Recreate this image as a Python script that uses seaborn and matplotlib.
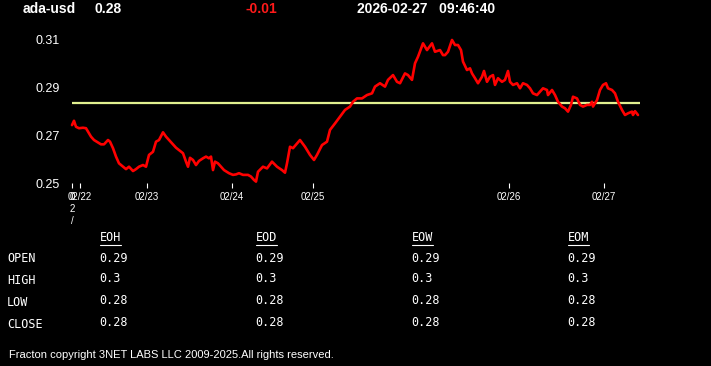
"""ada-usd intraday price panel with EOH/EOD/EOW/EOM summary table."""
import matplotlib
matplotlib.use("Agg")
import matplotlib.pyplot as plt
from matplotlib.lines import Line2D
import pandas as pd
import seaborn as sns

# --- data -----------------------------------------------------------------
symbol = "ada-usd"
last_price = "0.28"
change = "-0.01"
stamp = "2026-02-27   09:46:40"

sample = [0, 2, 4, 7, 11, 14, 16, 19, 22, 26, 29, 32, 36, 38, 41, 44, 47, 51,
          54, 57, 61, 64, 67, 71, 74, 77, 81, 84, 87, 91, 94, 97, 101, 104,
          107, 111, 114, 116, 118, 121, 124, 127, 131, 134, 137, 139, 141,
          143, 146, 149, 152, 157, 161, 164, 167, 171, 176, 179, 182, 184,
          186, 191, 195, 200, 205, 210, 213, 215, 218, 221, 228, 233, 238,
          242, 245, 250, 255, 258, 263, 268, 273, 278, 281, 285, 290, 295,
          300, 303, 308, 313, 316, 321, 325, 328, 333, 336, 340, 343, 346,
          351, 355, 360, 363, 368, 371,
          373, 376, 380, 383, 386, 389, 391, 395, 398, 400, 403, 406, 410,
          412, 415, 418, 421, 423, 426, 430, 433, 436, 438, 441, 445, 448,
          451, 455, 458, 461, 465, 468, 471, 475, 476, 480, 483, 486, 490,
          493, 496, 499, 501, 505, 508, 511, 515, 518, 520, 521, 525, 528,
          531, 534, 536, 540, 543, 546, 550, 553, 556, 560, 561, 563, 566]
price = [0.2742, 0.2760, 0.2735, 0.2729, 0.2731, 0.2729, 0.2715, 0.2694,
         0.2680, 0.2670, 0.2662, 0.2662, 0.2680, 0.2673, 0.2646, 0.2611,
         0.2583, 0.2569, 0.2559, 0.2569, 0.2551, 0.2559, 0.2569, 0.2576,
         0.2569, 0.2618, 0.2631, 0.2673, 0.2680, 0.2712, 0.2694, 0.2680,
         0.2662, 0.2648, 0.2638, 0.2625, 0.2590, 0.2569, 0.2606, 0.2597,
         0.2576, 0.2593, 0.2604, 0.2611, 0.2604, 0.2611, 0.2555, 0.2590,
         0.2583, 0.2569, 0.2555, 0.2542, 0.2535, 0.2537, 0.2542, 0.2535,
         0.2535, 0.2528, 0.2514, 0.2507,
         0.2548, 0.2569, 0.2562, 0.2590, 0.2569, 0.2555, 0.2544, 0.2583,
         0.2652, 0.2646, 0.2680, 0.2652, 0.2618, 0.2597, 0.2618, 0.2659,
         0.2673, 0.2722, 0.2749, 0.2777, 0.2805, 0.2819, 0.2839, 0.2853,
         0.2853, 0.2867, 0.2874, 0.2902, 0.2916, 0.2902, 0.2930, 0.2950,
         0.2922, 0.2916, 0.2957, 0.2950, 0.2930, 0.2999, 0.3026, 0.3082,
         0.3054, 0.3082, 0.3047, 0.3054, 0.3033,
         0.3033, 0.3047, 0.3096, 0.3075, 0.3075, 0.3054, 0.3006, 0.2971,
         0.2978, 0.2957, 0.2937, 0.2916, 0.2943, 0.2967, 0.2922, 0.2943,
         0.2950, 0.2909, 0.2937, 0.2922, 0.2930, 0.2967, 0.2922, 0.2909,
         0.2916, 0.2895, 0.2916, 0.2909, 0.2895, 0.2874, 0.2867, 0.2881,
         0.2895, 0.2888, 0.2867, 0.2888, 0.2867, 0.2839, 0.2819, 0.2812,
         0.2798, 0.2826, 0.2860, 0.2853, 0.2826, 0.2819, 0.2826, 0.2826,
         0.2839, 0.2819, 0.2846, 0.2888, 0.2909, 0.2916, 0.2895, 0.2888,
         0.2874, 0.2839, 0.2805, 0.2784, 0.2791, 0.2798, 0.2784, 0.2800,
         0.2784]
ref_level = 0.2835
n_samples = 568

tick_pos = [0, 8, 75, 160, 241, 437, 532]
tick_labels = ["0\n2\n/", "02/22", "02/23", "02/24", "02/25", "02/26", "02/27"]
y_ticks = [0.25, 0.27, 0.29, 0.31]

periods = ["EOH", "EOD", "EOW", "EOM"]
rows = ["OPEN", "HIGH", "LOW", "CLOSE"]
table = {
    "EOH": ["0.29", "0.3", "0.28", "0.28"],
    "EOD": ["0.29", "0.3", "0.28", "0.28"],
    "EOW": ["0.29", "0.3", "0.28", "0.28"],
    "EOM": ["0.29", "0.3", "0.28", "0.28"],
}
footer = "Fracton copyright 3NET LABS LLC 2009-2025.All rights reserved."

# --- figure ---------------------------------------------------------------
sns.set_theme(style="dark")
plt.rcParams["font.family"] = ["Liberation Sans", "DejaVu Sans"]

W, H = 711, 366
fig = plt.figure(figsize=(W / 100, H / 100), dpi=100, facecolor="black")
ax = fig.add_axes([72 / W, 1 - 183.3 / H, 568 / W, (183.3 - 39) / H])
ax.set_facecolor("black")

df = pd.DataFrame({"sample": sample, "price": price})
ax.axhline(ref_level, xmin=0, xmax=1, color="#e1f08f", lw=1.6, zorder=1)
sns.lineplot(data=df, x="sample", y="price", ax=ax, color="#ff0000",
             lw=1.9, zorder=2, clip_on=False, solid_joinstyle="round")

ax.set_xlim(0, n_samples)
ax.set_ylim(0.25, 0.31)
ax.set_xticks(tick_pos)
ax.set_xticklabels(tick_labels, fontsize=7, color="white", linespacing=1.25,
                   va="top")
ax.set_yticks(y_ticks)
ax.set_yticklabels([f"{v:.2f}" for v in y_ticks], fontsize=9, color="white")
ax.tick_params(axis="x", length=3.6, width=0.8, color="white", pad=2.5,
               bottom=True)
ax.tick_params(axis="y", length=0, pad=8.5)
ax.set_xlabel("")
ax.set_ylabel("")
ax.grid(False)
for s in ax.spines.values():
    s.set_visible(False)


def px(x, y):
    return x / W, 1 - y / H


# header
hdr = dict(color="white", fontsize=10, fontweight="bold", va="center")
fig.text(*px(23, 9), symbol, **hdr)
fig.text(*px(95, 9), last_price, **hdr)
fig.text(*px(246, 9), change, **{**hdr, "color": "#ff1a1a"})
fig.text(*px(357, 9), stamp, **hdr)

# summary table
mono = dict(color="white", fontsize=8.5, family="DejaVu Sans Mono",
            va="center")
col_x = [99, 255, 411, 567]
row_y = [259, 280, 302, 324]
heads = []
for cx, p in zip(col_x, periods):
    heads.append(fig.text(*px(cx + 1, 238), p, **mono))
    for ry, v in zip(row_y, table[p]):
        fig.text(*px(cx, ry - 1), v, **mono)
for ry, r in zip(row_y, rows):
    fig.text(*px(7, ry), r, **mono)

fig.canvas.draw()
rend = fig.canvas.get_renderer()
for t in heads:
    bb = t.get_window_extent(rend)
    y = 1 - 245 / H
    fig.add_artist(Line2D([bb.x0 / W, bb.x1 / W], [y, y], color="white",
                          lw=0.8, transform=fig.transFigure))

fig.text(*px(9, 355), footer, color="white", fontsize=8, va="center")

fig.savefig("out.png", dpi=100, facecolor="black")
